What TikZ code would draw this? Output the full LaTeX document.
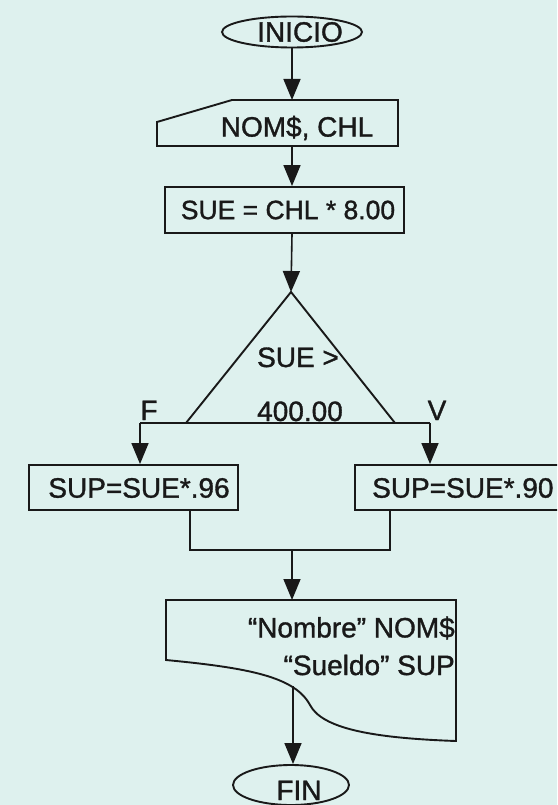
\documentclass[tikz,border=0pt]{standalone}
\usepackage{fontspec}
\setmainfont{Liberation Sans}[FakeBold=1.2]
\newfontfamily\boldishfont{Liberation Sans}[FakeBold=1.2]
\usetikzlibrary{shapes.geometric,arrows.meta}
\definecolor{bgc}{RGB}{222,241,238}
\definecolor{ink}{RGB}{25,25,25}
\begin{document}
\begin{tikzpicture}[x=1pt,y=-1pt,
  shp/.style={draw=ink,line width=1.9pt},
  conn/.style={draw=ink,line width=1.6pt},
  arr/.style={conn,-{Triangle[length=21pt,width=17pt]}},
  txt/.style={inner sep=0pt,text=ink,font=\boldishfont\fontsize{28}{30}\selectfont},
  txts/.style={inner sep=0pt,text=ink,font=\boldishfont\fontsize{26.5}{30}\selectfont}]
\useasboundingbox (0,0) rectangle (557,805);
\fill[bgc] (0,0) rectangle (557,805);
\clip (0,0) rectangle (557,805);
% INICIO
\node[shp,ellipse,minimum width=140pt,minimum height=31pt,inner sep=0pt] (ini) at (292,32) {};
\node[txt] (initxt) at (300,32) {INICIO};
% NOM$, CHL input
\coordinate (nomtop) at (292,100);
\coordinate (nombot) at (292,146);
\draw[shp] (157,122) -- (232,100) -- (398,100) -- (398,146) -- (157,146) -- cycle;
\node[txt] (nomtxt) at (297,128) {NOM\$, CHL};
% SUE box
\node[shp,minimum width=239pt,minimum height=46pt,inner sep=0pt] (sue) at (284.5,210) {};
\node[txts] (suetxt) at (288,210) {SUE = CHL * 8.00};
% decision triangle
\coordinate (apex) at (291,292);
\coordinate (tl) at (186,423);
\coordinate (tr) at (395,423);
\draw[shp] (apex) -- (tr) -- (tl) -- cycle;
\node[txt,anchor=base] (dec1) at (298,367) {SUE >};
\node[txt,anchor=base] (dec2) at (300,421) {400.00};
\coordinate (fl) at (140,423);
\coordinate (vr) at (430,423);
\draw[conn] (fl) -- (vr);
\node[txt,anchor=base] (flab) at (149,420) {F};
\node[txt,anchor=base] (vlab) at (437,420) {V};
% branch boxes
\node[shp,minimum width=209pt,minimum height=45pt,inner sep=0pt] (lbox) at (133.5,487.5) {};
\node[txt] (ltxt) at (139,488) {SUP=SUE*.96};
\node[shp,minimum width=220pt,minimum height=45pt,inner sep=0pt] (rbox) at (465,487.5) {};
\node[txt,anchor=west] (rtxt) at (372,488) {SUP=SUE*.90};
\draw[arr] (fl) -- (fl |- lbox.north);
\draw[arr] (vr) -- (vr |- rbox.north);
% merge
\coordinate (ml) at (190,550);
\coordinate (mr) at (390,550);
\coordinate (mc) at (292,550);
\draw[conn] (ml |- lbox.south) -- (ml) -- (mr) -- (mr |- rbox.south);
% output document
\coordinate (doctop) at (292,600);
\draw[shp] (166,660) -- (166,600) -- (456,600) -- (456,741)
  .. controls (370,738) and (322,728) .. (310,705)
  .. controls (295,677) and (250,668) .. (166,660) -- cycle;
\node[txt,anchor=east] (d1) at (455,628) {“Nombre” NOM\$};
\node[txt,anchor=east] (d2) at (455,665) {“Sueldo” SUP};
\coordinate (docout) at (293,686);
% FIN
\node[shp,ellipse,minimum width=116pt,minimum height=40pt,inner sep=0pt] (fin) at (291,785) {};
\node[txt,anchor=base] (fintxt) at (299,800) {FIN};
% connectors
\draw[arr] (ini.south) -- (nomtop);
\draw[arr] (nombot) -- (nombot |- sue.north);
\draw[arr] (nombot |- sue.south) -- (apex);
\draw[arr] (mc) -- (doctop);
\draw[arr] (docout) -- (docout |- fin.north);
\end{tikzpicture}
\end{document}
